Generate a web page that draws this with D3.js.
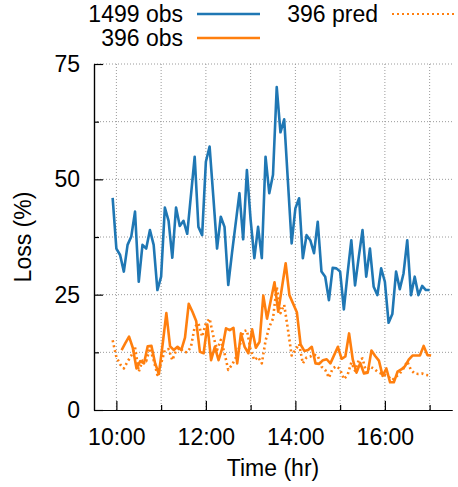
<!DOCTYPE html>
<html>
<head>
<meta charset="utf-8">
<script src="https://cdn.jsdelivr.net/npm/d3@7"></script>
<style>
  body { margin: 0; background: #fff; }
  text { font-family: "Liberation Sans", Arial, Helvetica, sans-serif; fill: #000; }
</style>
</head>
<body>
<svg id="chart" width="458" height="487"></svg>
<script>
// ---- data -----------------------------------------------------------------
const obs1499Times = ["9:55","10:00","10:05","10:10","10:15","10:20","10:25","10:30","10:35","10:40","10:45","10:50","10:55","11:00","11:05","11:10","11:15","11:20","11:25","11:30","11:35",
  "11:45","11:50","11:55","12:00","12:05","12:10","12:15","12:20","12:25","12:30","12:35",
  "12:45","12:50","12:55","13:00","13:05","13:10","13:15","13:20","13:25","13:30","13:35","13:40","13:45",
  "13:55","14:00","14:05","14:10","14:15","14:20","14:25","14:30","14:35","14:40","14:45","14:50","14:55","15:00","15:05","15:10","15:15","15:20","15:25","15:30","15:35","15:40","15:45","15:50","15:55","16:00","16:05","16:10","16:15","16:20","16:25","16:30","16:35","16:40","16:45","16:50","16:55","17:00"];
const obs1499Loss = [46.0,35.0,33.6,30.0,35.8,37.6,43.0,27.8,35.8,35.0,39.0,35.8,26.0,28.9,43.9,41.0,33.0,43.9,39.9,41.0,38.2,
  54.9,39.7,37.9,53.8,57.1,46.2,35.0,41.9,39.7,27.1,34.0,
  47.0,37.0,52.0,41.2,32.9,39.7,32.9,54.9,47.0,51.0,70.0,60.2,63.0,
  36.1,43.7,45.9,32.9,37.9,36.8,34.0,40.8,30.0,28.9,23.8,30.8,30.7,30.0,21.8,29.6,36.8,27.0,33.2,39.0,28.9,35.0,26.7,24.9,30.7,27.8,18.9,20.8,30.0,26.2,29.6,36.8,24.9,28.9,24.9,26.9,26.0,26.0];

const obs396Times = ["10:07","10:12","10:17","10:22","10:27","10:32","10:37","10:42","10:47","10:52","10:57","11:02","11:07","11:12","11:17","11:22","11:27","11:32","11:37","11:42","11:47","11:52","11:57",
  "12:02","12:07","12:12","12:17","12:22","12:27","12:32","12:37","12:42","12:47","12:52","12:57","13:02","13:07","13:12","13:17","13:22","13:32","13:37","13:47","13:52",
  "14:02","14:07","14:12","14:17","14:22","14:27","14:32","14:37","14:42","14:47","14:57","15:02","15:07","15:12","15:17","15:22","15:27","15:32","15:37","15:42","15:47","15:52","15:57",
  "16:02","16:07","16:12","16:17","16:22","16:27","16:32","16:37","16:47","16:52","16:57","17:02"];
const obs396Loss = [13.0,14.5,15.9,13.5,9.0,10.6,10.1,13.8,13.9,10.1,7.8,14.2,21.0,13.8,13.0,13.7,13.0,15.7,23.0,21.3,19.3,12.6,12.3,
  18.5,10.8,13.7,10.8,13.4,17.7,17.3,17.8,10.1,16.6,13.7,12.3,17.5,13.5,14.8,24.8,19.8,27.7,21.3,31.8,24.9,
  21.2,14.2,12.8,13.0,13.7,10.1,10.0,10.8,11.0,10.1,13.7,11.1,11.6,16.6,10.9,8.1,10.2,7.9,8.1,12.9,11.7,10.7,7.4,
  9.0,6.0,6.0,8.3,8.8,9.5,10.9,11.8,11.8,13.9,11.9,11.8];

const pred396Times = ["9:55","10:00","10:05","10:10","10:15","10:20","10:25","10:30","10:35","10:40","10:45","10:50","10:55",
  "11:00","11:05","11:10","11:15","11:20","11:25","11:30","11:35","11:40","11:45","11:50","11:55",
  "12:00","12:05","12:10","12:15","12:20","12:25","12:30","12:35","12:40","12:45","12:50","12:55",
  "13:00","13:05","13:10","13:15","13:20","13:25","13:30","13:35","13:40","13:45","13:50","13:55",
  "14:00","14:05","14:10","14:15","14:20","14:25","14:30","14:35","14:40","14:45","14:50","14:55",
  "15:00","15:05","15:10","15:15","15:20","15:25","15:30","15:35","15:40","15:45","15:50","15:55",
  "16:00","16:05","16:10","16:15","16:20","16:25","16:30","16:35","16:40","16:45","16:50","16:55","17:00"];
const pred396Loss = [15.1,11.5,9.9,9.0,10.5,11.8,13.6,8.3,10.7,10.6,13.4,10.8,7.6,
  10.1,13.0,13.2,10.8,12.9,13.5,12.6,12.5,13.7,18.0,18.8,15.9,
  18.8,19.8,16.0,13.0,15.2,12.3,8.7,9.8,11.3,13.7,17.0,17.3,
  13.0,10.8,11.5,10.1,15.0,18.0,19.8,26.7,21.0,22.8,17.5,11.8,
  13.0,14.3,10.1,11.4,11.6,12.0,11.8,9.4,8.7,7.0,9.0,9.5,
  8.8,6.7,7.6,10.3,8.5,10.8,11.2,8.1,9.4,9.0,8.3,7.9,
  7.6,7.2,6.5,7.2,7.9,9.0,10.5,8.7,7.9,7.8,7.9,7.6,7.5];

const hourMajorTicks = [10, 12, 14, 16];
const hourMinorTicks = [11, 13, 15, 17];
const lossMajorTicks = [0, 25, 50, 75];
const lossMinorTicks = [12.5, 37.5, 62.5];

const seriesNames = ["1499 obs", "396 obs", "396 pred"];
const seriesColors = ["#1f77b4", "#ff7f0e", "#ff7f0e"];

// ---- helpers --------------------------------------------------------------
const toHours = s => { const [h, m] = s.split(":").map(Number); return h + m / 60; };
const pairs = (times, vals) => times.map((t, i) => ({ t: toHours(t), v: vals[i] }));

const series = [
  { name: seriesNames[0], color: seriesColors[0], dash: null, data: pairs(obs1499Times, obs1499Loss) },
  { name: seriesNames[1], color: seriesColors[1], dash: null, data: pairs(obs396Times, obs396Loss) },
  { name: seriesNames[2], color: seriesColors[2], dash: "2,3", data: pairs(pred396Times, pred396Loss) }
];

// ---- layout ---------------------------------------------------------------
const svg = d3.select("#chart");
const plot = { left: 94, right: 452, top: 64, bottom: 410 };
const FONT = 23;

const x = d3.scaleLinear().domain([9.5, 17.5]).range([plot.left, plot.right]);
const y = d3.scaleLinear().domain([0, 75]).range([plot.bottom, plot.top]);

// dotted grid on major and minor ticks
const grid = svg.append("g").attr("stroke", "#9a9a9a").attr("stroke-width", 1)
  .attr("stroke-dasharray", "1,2").attr("fill", "none");
grid.selectAll("line.v").data(hourMajorTicks.concat(hourMinorTicks)).join("line")
  .attr("x1", d => x(d)).attr("x2", d => x(d))
  .attr("y1", y(0)).attr("y2", y(75));
grid.selectAll("line.h").data(lossMajorTicks.filter(d => d > 0).concat(lossMinorTicks)).join("line")
  .attr("x1", plot.left).attr("x2", plot.right)
  .attr("y1", d => y(d)).attr("y2", d => y(d));

// axes (ticks drawn inward)
const xMajor = d3.axisBottom(x).tickValues(hourMajorTicks).tickSizeInner(-9).tickSizeOuter(0)
  .tickPadding(18.5).tickFormat(d => d + ":00");
const xMinor = d3.axisBottom(x).tickValues(hourMinorTicks).tickSizeInner(-5).tickSizeOuter(0)
  .tickFormat("");
const yMajor = d3.axisLeft(y).tickValues(lossMajorTicks).tickSizeInner(-9).tickSizeOuter(0)
  .tickPadding(14);
const yMinor = d3.axisLeft(y).tickValues(lossMinorTicks).tickSizeInner(-5).tickSizeOuter(0)
  .tickFormat("");

function styleAxis(g) {
  g.selectAll("path.domain").attr("stroke", "#000").attr("stroke-width", 1.2);
  g.selectAll(".tick line").attr("stroke", "#000").attr("stroke-width", 1.2);
  g.selectAll(".tick text").attr("font-size", FONT).attr("font-family", null).attr("fill", "#000");
}
svg.append("g").attr("transform", `translate(0,${plot.bottom})`).call(xMinor).call(styleAxis);
svg.append("g").attr("transform", `translate(0,${plot.bottom})`).call(xMajor).call(styleAxis);
svg.append("g").attr("transform", `translate(${plot.left},0)`).call(yMinor).call(styleAxis);
svg.append("g").attr("transform", `translate(${plot.left},0)`).call(yMajor).call(styleAxis);
svg.selectAll("g").attr("font-family", null);

// axis titles
svg.append("text").attr("x", (plot.left + plot.right) / 2).attr("y", 476)
  .attr("text-anchor", "middle").attr("font-size", FONT).text("Time (hr)");
svg.append("text").attr("transform", `translate(31,${(plot.top + plot.bottom) / 2}) rotate(-90)`)
  .attr("text-anchor", "middle").attr("font-size", FONT).text("Loss (%)");

// series lines
const line = d3.line().x(d => x(d.t)).y(d => y(d.v));
svg.append("g").selectAll("path").data(series).join("path")
  .attr("d", d => line(d.data))
  .attr("fill", "none")
  .attr("stroke", d => d.color)
  .attr("stroke-width", 2.6)
  .attr("stroke-linejoin", "round")
  .attr("stroke-dasharray", d => d.dash);

// legend: two columns, text right-aligned before its sample line
const legendItems = [
  { s: series[0], tx: 183, ty: 21.5, lx1: 197, lx2: 260, ly: 14 },
  { s: series[1], tx: 183, ty: 46,   lx1: 197, lx2: 260, ly: 38 },
  { s: series[2], tx: 378, ty: 21.5, lx1: 392, lx2: 455, ly: 14 }
];
const legend = svg.append("g");
legendItems.forEach(it => {
  legend.append("text").attr("x", it.tx).attr("y", it.ty).attr("text-anchor", "end")
    .attr("font-size", FONT).text(it.s.name);
  legend.append("line").attr("x1", it.lx1).attr("x2", it.lx2).attr("y1", it.ly).attr("y2", it.ly)
    .attr("stroke", it.s.color).attr("stroke-width", it.s.dash ? 2 : 2.6)
    .attr("stroke-dasharray", it.s.dash);
});
</script>
</body>
</html>
